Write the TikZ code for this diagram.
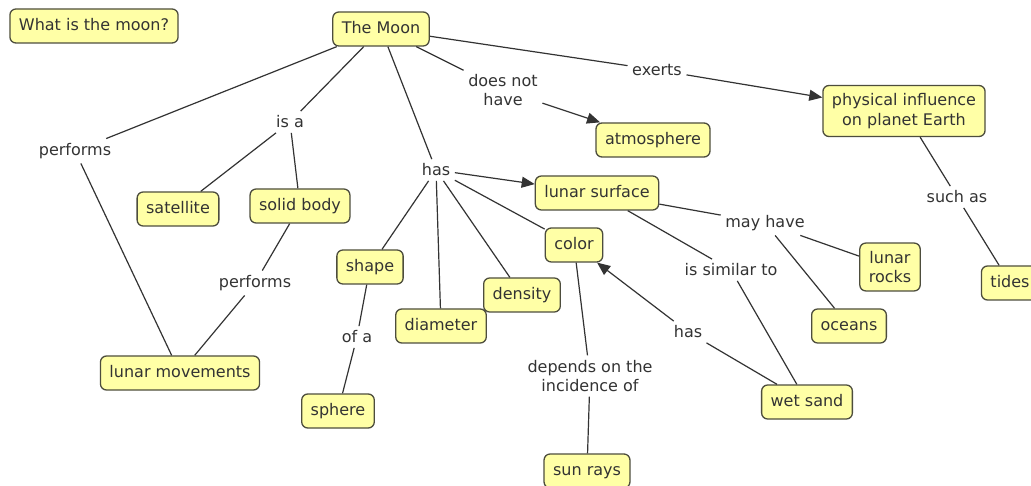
\documentclass[tikz,border=0pt]{standalone}
\usepackage{fontspec}
\setmainfont{DejaVu Sans}
\usetikzlibrary{arrows.meta}
\definecolor{boxfill}{HTML}{FFFFA6}
\definecolor{boxdraw}{HTML}{4D4D3D}
\definecolor{ink}{HTML}{333333}
\begin{document}
\begin{tikzpicture}[x=1pt,y=-1pt,
  font=\fontsize{16}{19.5}\selectfont,
  concept/.style={draw=boxdraw, fill=boxfill, rounded corners=6pt, line width=1.3pt, text=ink,
    inner xsep=9pt, inner ysep=0pt, text height=12pt, text depth=3.5pt, minimum height=34pt},
  concepttwo/.style={draw=boxdraw, fill=boxfill, rounded corners=6pt, line width=1.3pt, text=ink,
    inner xsep=9pt, inner ysep=8pt, align=center},
  link/.style={text=ink, inner sep=4.5pt, align=center},
  conn/.style={draw=ink, line width=1.2pt},
  arr/.style={conn, -{Triangle[length=13pt,width=11pt]}}]
\useasboundingbox (0,0) rectangle (1031,486);
\fill[white] (0,0) rectangle (1031,486);

% concepts
\node[concept] (q) at (94,26) {What is the moon?};
\node[concept] (moon) at (381,29) {The Moon};
\node[concepttwo] (phys) at (904,111) {physical influence\\on planet Earth};
\node[concept] (atm) at (653,140) {atmosphere};
\node[concept] (surf) at (597,193) {lunar surface};
\node[concept] (sat) at (178,209) {satellite};
\node[concept] (solid) at (300,206) {solid body};
\node[concept] (color) at (574,245) {color};
\node[concept] (shape) at (370,267) {shape};
\node[concept] (dens) at (522,295) {density};
\node[concept] (diam) at (441,326) {diameter};
\node[concepttwo] (rocks) at (890,267) {lunar\\rocks};
\node[concept] (oceans) at (849,326) {oceans};
\node[concept] (tides) at (1010,283) {tides};
\node[concept] (move) at (180,373) {lunar movements};
\node[concept] (sphere) at (338,411) {sphere};
\node[concept] (wet) at (807,402) {wet sand};
\node[concept] (sun) at (587,471) {sun rays};

% linking phrases
\node[link] (l1) at (75,151) {performs};
\node[link] (l2) at (290,122) {is a};
\node[link] (l3) at (436,170) {has};
\node[link] (l4) at (503,90) {does not\\have};
\node[link] (l5) at (657,70) {exerts};
\node[link] (l6) at (255,283) {performs};
\node[link] (l7) at (357,337) {of a};
\node[link] (l8) at (765,223) {may have};
\node[link] (l9) at (731,270) {is similar to};
\node[link] (l10) at (957,197) {such as};
\node[link] (l11) at (688,332) {has};
\node[link] (l12) at (590,376) {depends on the\\incidence of};

% connectors
\draw[conn] (moon) -- (l1);
\draw[conn] (l1) -- (move);
\draw[conn] (moon) -- (l2);
\draw[conn] (l2) -- (sat);
\draw[conn] (l2) -- (solid);
\draw[conn] (moon) -- (l3);
\draw[arr] (l3) -- (surf);
\draw[conn] (l3) -- (shape);
\draw[conn] (l3) -- (diam);
\draw[conn] (l3) -- (dens);
\draw[conn] (l3) -- (color);
\draw[conn] (moon) -- (l4);
\draw[arr] (l4) -- (atm);
\draw[conn] (moon) -- (l5);
\draw[arr] (l5) -- (phys);
\draw[conn] (solid) -- (l6);
\draw[conn] (l6) -- (move);
\draw[conn] (shape) -- (l7);
\draw[conn] (l7) -- (sphere);
\draw[conn] (surf) -- (l8);
\draw[conn] (l8) -- (rocks);
\draw[conn] (l8) -- (oceans);
\draw[conn] (surf) -- (l9);
\draw[conn] (l9) -- (wet);
\draw[conn] (phys) -- (l10);
\draw[conn] (l10) -- (tides);
\draw[conn] (wet) -- (l11);
\draw[arr] (l11) -- (color);
\draw[conn] (color) -- (l12);
\draw[conn] (l12) -- (sun);
\end{tikzpicture}
\end{document}
